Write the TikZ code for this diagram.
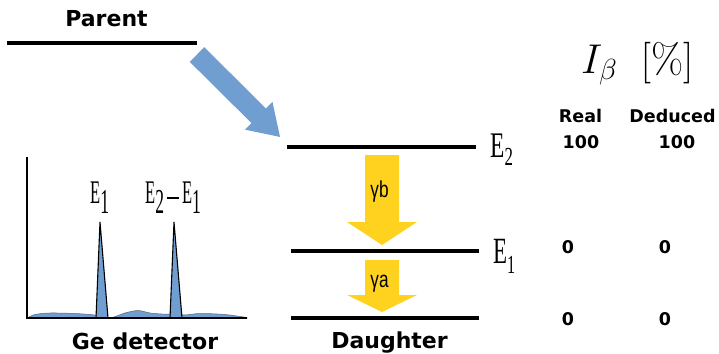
\RequirePackage{fix-cm}
\documentclass[tikz,border=0pt]{standalone}
\usepackage{fontspec}
\usepackage{graphicx}
\newfontfamily\lblfont{DejaVu Sans}
\newfontfamily\efont{Liberation Serif}
\newfontfamily\gfont{Liberation Sans}
\definecolor{decayblue}{RGB}{112,158,208}
\definecolor{gammayellow}{RGB}{255,210,32}
\definecolor{waveedge}{RGB}{90,100,120}

% condensed serif energy label: letter E plus a lowered index
% #1 x-scale, #2 size of E, #3 size of index, #4 drop of index, #5 index
\newcommand{\esub}[5]{\scalebox{#1}[1]{\fontsize{#2}{#2}\efont E\raisebox{-#4}{\fontsize{#3}{#3}\selectfont #5}}}

\begin{document}
\begin{tikzpicture}[x=1pt,y=-1pt,
  levelline/.style={line width=4pt},
  bigtxt/.style={font=\fontsize{22}{22}\lblfont\bfseries, anchor=base, inner sep=0pt},
  coltxt/.style={font=\fontsize{17.5}{17.5}\lblfont\bfseries, anchor=base, inner sep=0pt},
  plain/.style={inner sep=0pt, anchor=base west},
  gammaarrow/.style={fill=gammayellow, draw=none},
  gammatxt/.style={inner sep=0pt, anchor=base},
  peakstyle/.style={fill=decayblue, draw=black, line width=1.1pt, line join=miter}]
\useasboundingbox (0,0) rectangle (719,353);

% ---------- parent level and beta-decay arrow ----------
\node[bigtxt] (parent) at (106.5,27) {Parent};
\coordinate (pl) at (7,43);
\coordinate (pr) at (197,43);
\draw[levelline] (pl) -- (pr);

\begin{scope}[shift={(197,54.5)}, rotate=-44.8]
  \fill[decayblue] (0,-10.3) -- (87,-10.3) -- (87,-19.5) -- (117,0)
                   -- (87,19.5) -- (87,10.3) -- (0,10.3) -- cycle;
\end{scope}

% ---------- daughter levels ----------
\coordinate (e2l) at (287,147);  \coordinate (e2r) at (476,147);
\coordinate (e1l) at (291,251);  \coordinate (e1r) at (479,251);
\coordinate (gl)  at (291,318);  \coordinate (gr)  at (479,318);
\draw[levelline] (e2l) -- (e2r);
\draw[levelline] (e1l) -- (e1r);
\draw[levelline] (gl) -- (gr);

\node[plain] (labE2) at (490,157) {\esub{0.65}{36}{26}{8pt}{2}};
\node[plain] (labE1) at (493,263) {\esub{0.62}{37}{26}{10pt}{1}};

% gamma transitions
\fill[gammaarrow] (365,155) -- (399,155) -- (399,222) -- (417,222) -- (382,245)
                  -- (347,222) -- (365,222) -- cycle;
\fill[gammaarrow] (365,260) -- (399,260) -- (399,295) -- (417,295) -- (382,312)
                  -- (347,295) -- (365,295) -- cycle;
\node[gammatxt] (gb) at (379.5,197)
  {\scalebox{0.75}[1]{\fontsize{23}{23}\gfont γb}};
\node[gammatxt] (ga) at (379.5,287)
  {\scalebox{0.75}[1]{\fontsize{23}{23}\gfont γa}};

\node[bigtxt] (daughter) at (389.5,348) {Daughter};

% ---------- germanium spectrum ----------
\fill[decayblue, draw=waveedge, line width=0.5pt]
  plot[smooth] coordinates {(27,318) (35,314.5) (50,313) (75,313.5) (95,315)
     (104,317) (112,317.5) (125,313) (138,310.5) (150,313) (162,314) (172,314)
     (184,315) (200,313.5) (225,314.5) (247,317.5)}
  -- (247,318) -- (27,318) -- cycle;
\filldraw[peakstyle] (96,318) -- (100,222) -- (108,318) -- cycle;
\filldraw[peakstyle] (170,318) -- (174,222) -- (182,318) -- cycle;
\draw[line width=2pt] (27,157) -- (27,318) -- (247,318);

\node[plain] (pk1) at (90,203) {\esub{0.5}{33}{35}{10pt}{1}};
\node[plain] (pk2) at (145,203)
  {\esub{0.5}{33}{35}{10pt}{2}\kern3pt\rule[4pt]{12pt}{1.6pt}\kern3pt\esub{0.5}{33}{35}{10pt}{1}};

\node[bigtxt] (ge) at (145,349) {Ge detector};

% ---------- intensity table ----------
\node[plain] (ib) at (581,73)
  {\scalebox{1.3}{\fontsize{32}{32}\selectfont$I_\beta\;\;[\%]$}};
\node[coltxt] (real) at (580.5,122) {Real};
\node[coltxt] (ded)  at (672.5,122) {Deduced};
\node[coltxt] (r2) at (581,148) {100};
\node[coltxt] (d2) at (677,148) {100};
\node[coltxt] (r1) at (568,253) {0};
\node[coltxt] (d1) at (665,253) {0};
\node[coltxt] (r0) at (568,325) {0};
\node[coltxt] (d0) at (665,325) {0};
\end{tikzpicture}
\end{document}
